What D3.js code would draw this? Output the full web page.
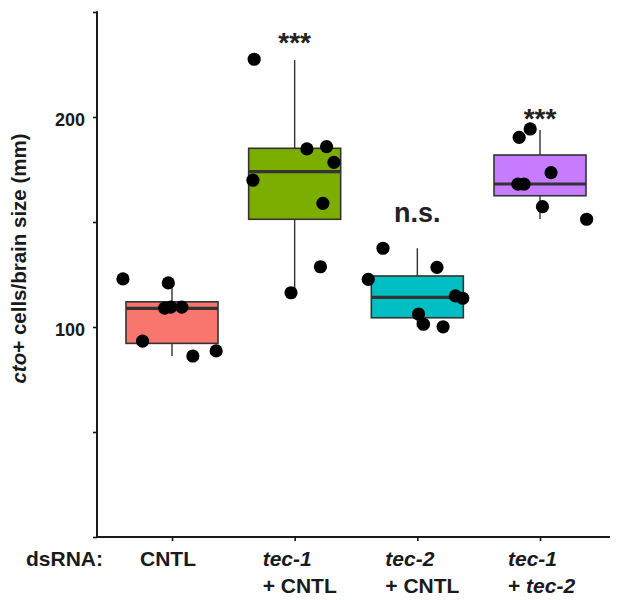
<!DOCTYPE html>
<html>
<head>
<meta charset="utf-8">
<script src="https://cdn.jsdelivr.net/npm/d3@7"></script>
<style>
  html, body { margin: 0; padding: 0; background: #fff; }
  svg { display: block; font-family: "Liberation Sans", Arial, Helvetica, sans-serif; }
</style>
</head>
<body>
<svg id="chart" width="617" height="600"></svg>
<script>
// ---- data ----
const categories = ["CNTL", "tec-1 + CNTL", "tec-2 + CNTL", "tec-1 + tec-2"];
const colors = ["#F8766D", "#7CAE00", "#00BFC4", "#C77CFF"];
// box stats: [lowerWhisker, q1, median, q3, upperWhisker]
const boxStats = [
  [86.2, 92.2, 108.9, 112.0, 121.0],
  [116.8, 151.3, 174.0, 185.1, 227.1],
  [100.1, 104.4, 114.1, 124.3, 137.5],
  [151.4, 162.5, 168.1, 181.9, 193.8]
];
// jittered points: [jitter (fraction of category step), value]
const pointsCNTL = [[-0.40, 122.9], [-0.03, 121.0], [-0.24, 93.3], [-0.06, 109.0], [-0.01, 109.5], [0.08, 109.5], [0.17, 86.2], [0.36, 88.6]];
const pointsTec1 = [[-0.33, 227.5], [0.10, 184.8], [0.26, 185.9], [0.32, 178.4], [-0.34, 169.9], [0.23, 158.9], [0.21, 128.7], [-0.03, 116.3]];
const pointsTec2 = [[-0.28, 137.5], [0.16, 128.4], [-0.40, 122.7], [0.31, 114.8], [0.37, 113.7], [0.01, 106.2], [0.05, 101.3], [0.21, 100.1]];
const pointsBoth = [[-0.08, 194.3], [-0.17, 190.3], [0.09, 173.5], [-0.18, 168.0], [-0.13, 168.0], [0.02, 157.3], [0.38, 151.3]];
const pointGroups = [pointsCNTL, pointsTec1, pointsTec2, pointsBoth];
// significance annotations: [category index, label, value level of baseline]
const annotations = [[1, "***", 231], [2, "n.s.", 150], [3, "***", 195]];
const yTicks = [0, 50, 100, 150, 200, 250];
const yTickLabels = ["", "", "100", "", "200", ""];
// category label lines: [ [text, italic], ... ] per line
const catLabelLines = [
  [[["CNTL", false]]],
  [[["tec-1", true]], [["+ CNTL", false]]],
  [[["tec-2", true]], [["+ CNTL", false]]],
  [[["tec-1", true]], [["+ ", false], ["tec-2", true]]]
];

// ---- layout ----
const svg = d3.select("#chart");
const axisX0 = 97, axisX1 = 610, axisY0 = 537, axisY1 = 12;
const y = d3.scaleLinear().domain([0, 250]).range([axisY0, axisY1]);
const x = d3.scalePoint().domain(d3.range(categories.length)).range([172, 540]);
const step = x.step();
const boxW = step * 0.75;
const ink = "#1a1a1a";

// boxes
const g = svg.append("g");
boxStats.forEach((s, i) => {
  const cx = x(i);
  g.append("line").attr("x1", cx).attr("x2", cx).attr("y1", y(s[3])).attr("y2", y(s[4]))
    .attr("stroke", "#333").attr("stroke-width", 1.4);
  g.append("line").attr("x1", cx).attr("x2", cx).attr("y1", y(s[1])).attr("y2", y(s[0]))
    .attr("stroke", "#333").attr("stroke-width", 1.4);
  g.append("rect").attr("x", cx - boxW / 2).attr("width", boxW)
    .attr("y", y(s[3])).attr("height", y(s[1]) - y(s[3]))
    .attr("fill", colors[i]).attr("stroke", "#333").attr("stroke-width", 1.6);
  g.append("line").attr("x1", cx - boxW / 2).attr("x2", cx + boxW / 2)
    .attr("y1", y(s[2])).attr("y2", y(s[2]))
    .attr("stroke", "#333").attr("stroke-width", 3.2);
});

// points
pointGroups.forEach((pts, i) => {
  g.selectAll(null).data(pts).enter().append("circle")
    .attr("cx", d => x(i) + d[0] * step)
    .attr("cy", d => y(d[1]))
    .attr("r", 6.6)
    .attr("fill", "#000");
});

// annotations
annotations.forEach(a => {
  svg.append("text").attr("x", x(a[0])).attr("y", y(a[2]))
    .attr("text-anchor", "middle").attr("font-weight", "bold")
    .attr("font-size", a[1] === "***" ? 28 : 27).attr("fill", "#222")
    .text(a[1]);
});

// y axis
const yAxis = d3.axisLeft(y).tickValues(yTicks).tickSize(4).tickPadding(8)
  .tickFormat((d, i) => yTickLabels[i]);
const ya = svg.append("g").attr("transform", `translate(${axisX0},0)`).call(yAxis);
ya.select(".domain").remove();
ya.selectAll(".tick line").attr("stroke", ink).attr("stroke-width", 1.6);
ya.selectAll(".tick text").attr("font-size", 18).attr("font-weight", "bold")
  .attr("font-family", "Liberation Sans, Arial, sans-serif").attr("fill", ink).attr("dy", "0.45em");
svg.append("line").attr("x1", axisX0).attr("x2", axisX0).attr("y1", axisY1 - 0.8).attr("y2", axisY0 + 0.8)
  .attr("stroke", ink).attr("stroke-width", 2);

// x axis
const xAxis = d3.axisBottom(x).tickSize(4).tickFormat("");
const xa = svg.append("g").attr("transform", `translate(0,${axisY0})`).call(xAxis);
xa.select(".domain").remove();
xa.selectAll(".tick line").attr("stroke", ink).attr("stroke-width", 1.6);
svg.append("line").attr("x1", axisX0 - 1).attr("x2", axisX1).attr("y1", axisY0).attr("y2", axisY0)
  .attr("stroke", ink).attr("stroke-width", 2);

// category labels
catLabelLines.forEach((lines, i) => {
  lines.forEach((parts, li) => {
    const t = svg.append("text").attr("x", x(i) - 32).attr("y", 566 + li * 27)
      .attr("font-size", 21).attr("font-weight", "bold").attr("fill", ink);
    parts.forEach(p => {
      t.append("tspan").attr("font-style", p[1] ? "italic" : "normal").text(p[0]);
    });
  });
});
svg.append("text").attr("x", 26).attr("y", 566).attr("font-size", 21)
  .attr("font-weight", "bold").attr("fill", ink).text("dsRNA:");

// y title
const yt = svg.append("text")
  .attr("transform", `translate(26,${(axisY0 + axisY1) / 2 - 16}) rotate(-90)`)
  .attr("text-anchor", "middle").attr("font-size", 20.5).attr("font-weight", "bold").attr("fill", ink);
yt.append("tspan").attr("font-style", "italic").text("cto");
yt.append("tspan").text("+ cells/brain size (mm)");
</script>
</body>
</html>
